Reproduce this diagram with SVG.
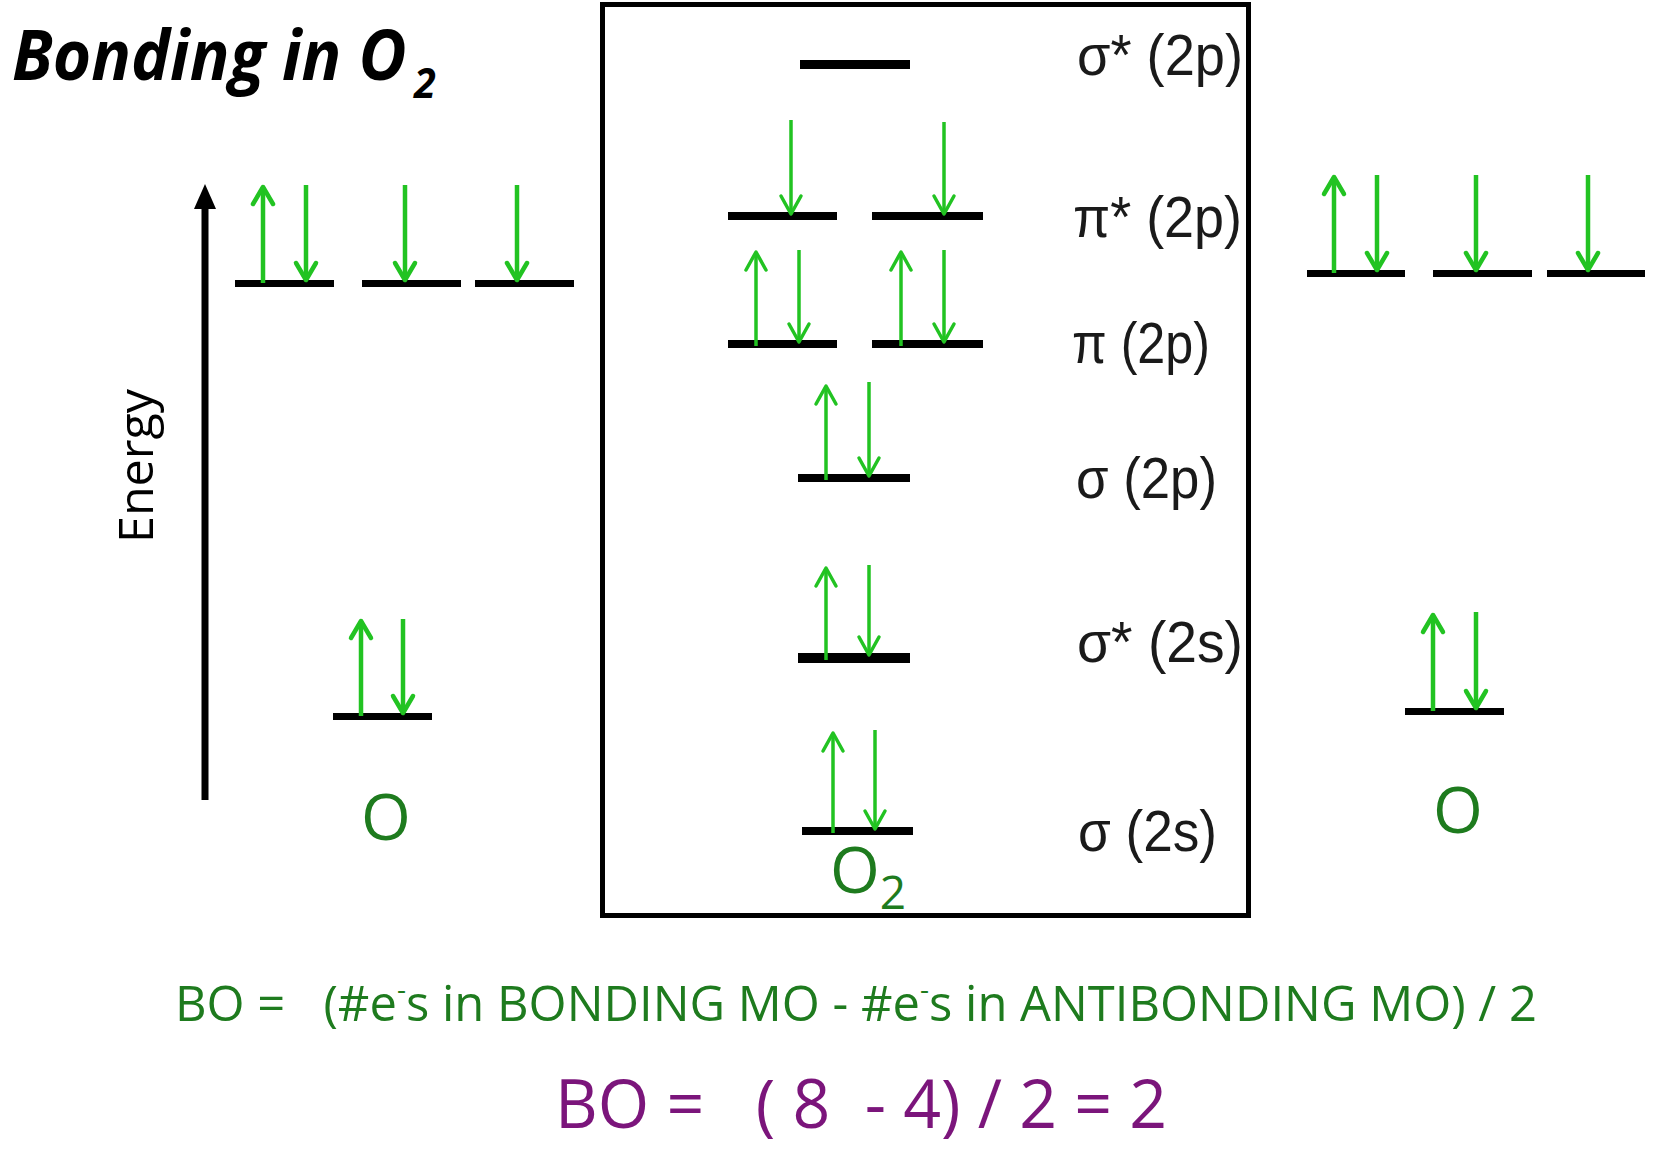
<svg xmlns="http://www.w3.org/2000/svg" width="1677" height="1165" viewBox="0 0 1677 1165">
<style>
.lvl{fill:#000}
.e{stroke:#22c322;fill:none;stroke-linecap:butt}
.ea{stroke-width:4.5;marker-end:url(#ah)}
.ec{stroke-width:3.5;marker-end:url(#ahc)}
.mo{font-family:"Liberation Sans",Arial,sans-serif;font-size:58px;fill:#1a1a1a}
.atom{font-family:"Open Sans","Liberation Sans",sans-serif;font-size:64px;fill:#1e7b1e;text-anchor:middle}
.f1{font-family:"Open Sans","Liberation Sans",sans-serif;font-size:49px;fill:#1e7b1e}
.f2{font-family:"Open Sans","Liberation Sans",sans-serif;font-size:68px;fill:#7b157b}
.sup{font-size:28px}
</style>
<defs>
<marker id="ah" markerUnits="userSpaceOnUse" viewBox="-20 -12 24 24" markerWidth="24" markerHeight="24" refX="0" refY="0" orient="auto" overflow="visible">
<path d="M-17,-10 L0,0 L-17,10" fill="none" stroke="#22c322" stroke-width="4.5" stroke-linejoin="round" stroke-linecap="round"/>
</marker>
<marker id="ahc" markerUnits="userSpaceOnUse" viewBox="-20 -12 24 24" markerWidth="24" markerHeight="24" refX="0" refY="0" orient="auto" overflow="visible">
<path d="M-18,-10 L0,0 L-18,10" fill="none" stroke="#22c322" stroke-width="3.5" stroke-linejoin="round" stroke-linecap="round"/>
</marker>
</defs>
<rect width="1677" height="1165" fill="#fff"/>

<g id="title">
<text transform="translate(12,80) scale(0.94,1)" font-family="'Open Sans','Liberation Sans',sans-serif" font-size="70" font-weight="700" font-style="italic">Bonding in O<tspan font-size="42" dx="8" dy="18">2</tspan></text>
</g>

<g id="energy-axis">
<line x1="205" y1="205" x2="205" y2="800" stroke="#000" stroke-width="7"/>
<polygon points="205,184 194,209 216,209" fill="#000"/>
<text transform="translate(153,543) rotate(-90)" font-family="'Open Sans','Liberation Sans',sans-serif" font-size="48" fill="#000" textLength="154" lengthAdjust="spacingAndGlyphs">Energy</text>
</g>

<g id="mo-box">
<rect x="602.5" y="4.5" width="646" height="911" fill="none" stroke="#000" stroke-width="5"/>
</g>

<g id="atom-left">
<rect class="lvl" x="235" y="280" width="99" height="7"/>
<rect class="lvl" x="362" y="280" width="99" height="7"/>
<rect class="lvl" x="475" y="280" width="99" height="7"/>
<rect class="lvl" x="333" y="713" width="99" height="7"/>
<text class="atom" x="386" y="840">O</text>
</g>

<g id="atom-right">
<rect class="lvl" x="1307" y="270" width="98" height="7"/>
<rect class="lvl" x="1433" y="270" width="99" height="7"/>
<rect class="lvl" x="1547" y="270" width="98" height="7"/>
<rect class="lvl" x="1405" y="708" width="99" height="7"/>
<text class="atom" x="1458" y="833">O</text>
</g>

<g id="mo-levels">
<rect class="lvl" x="800" y="60" width="110" height="9"/>
<rect class="lvl" x="728" y="212" width="109" height="8"/>
<rect class="lvl" x="872" y="212" width="111" height="8"/>
<rect class="lvl" x="728" y="340" width="109" height="8"/>
<rect class="lvl" x="872" y="340" width="111" height="8"/>
<rect class="lvl" x="798" y="474" width="112" height="8"/>
<rect class="lvl" x="798" y="653" width="112" height="10"/>
<rect class="lvl" x="802" y="827" width="111" height="8"/>
<text class="atom" x="868" y="893">O<tspan font-size="46" dy="16">2</tspan></text>
</g>

<g id="mo-labels">
<text class="mo" x="1077" y="75" textLength="166" lengthAdjust="spacingAndGlyphs">σ* (2p)</text>
<text class="mo" x="1073" y="237" textLength="169" lengthAdjust="spacingAndGlyphs">π* (2p)</text>
<text class="mo" x="1072" y="363" textLength="138" lengthAdjust="spacingAndGlyphs">π (2p)</text>
<text class="mo" x="1076" y="498" textLength="141" lengthAdjust="spacingAndGlyphs">σ (2p)</text>
<text class="mo" x="1077" y="662" textLength="166" lengthAdjust="spacingAndGlyphs">σ* (2s)</text>
<text class="mo" x="1078" y="851" textLength="139" lengthAdjust="spacingAndGlyphs">σ (2s)</text>
</g>

<g id="electrons">
<line class="e ea" x1="263" y1="283" x2="263" y2="187"/>
<line class="e ea" x1="306" y1="185" x2="306" y2="280"/>
<line class="e ea" x1="405" y1="185" x2="405" y2="280"/>
<line class="e ea" x1="517" y1="185" x2="517" y2="280"/>
<line class="e ea" x1="361" y1="716" x2="361" y2="621"/>
<line class="e ea" x1="403" y1="619" x2="403" y2="713"/>

<line class="e ea" x1="1334" y1="273" x2="1334" y2="177"/>
<line class="e ea" x1="1377" y1="175" x2="1377" y2="270"/>
<line class="e ea" x1="1476" y1="175" x2="1476" y2="270"/>
<line class="e ea" x1="1588" y1="175" x2="1588" y2="270"/>
<line class="e ea" x1="1433" y1="711" x2="1433" y2="615"/>
<line class="e ea" x1="1476" y1="612" x2="1476" y2="708"/>

<line class="e ec" x1="791" y1="120" x2="791" y2="214"/>
<line class="e ec" x1="944" y1="122" x2="944" y2="214"/>
<line class="e ec" x1="756" y1="346" x2="756" y2="252"/>
<line class="e ec" x1="799" y1="250" x2="799" y2="342"/>
<line class="e ec" x1="901" y1="346" x2="901" y2="252"/>
<line class="e ec" x1="944" y1="250" x2="944" y2="342"/>
<line class="e ec" x1="826" y1="480" x2="826" y2="386"/>
<line class="e ec" x1="869" y1="382" x2="869" y2="476"/>
<line class="e ec" x1="826" y1="660" x2="826" y2="568"/>
<line class="e ec" x1="869" y1="565" x2="869" y2="655"/>
<line class="e ec" x1="833" y1="833" x2="833" y2="733"/>
<line class="e ec" x1="875" y1="730" x2="875" y2="829"/>
</g>

<g id="formula">
<text class="f1" x="175" y="1021" textLength="1362" lengthAdjust="spacingAndGlyphs" xml:space="preserve">BO =   (#e<tspan class="sup" dy="-22">-</tspan><tspan dy="22">s in BONDING MO - #e</tspan><tspan class="sup" dy="-22">-</tspan><tspan dy="22">s in ANTIBONDING MO) / 2</tspan></text>
<text class="f2" x="555" y="1128" textLength="612" lengthAdjust="spacingAndGlyphs" xml:space="preserve">BO =   ( 8  - 4) / 2 = 2</text>
</g>
</svg>
